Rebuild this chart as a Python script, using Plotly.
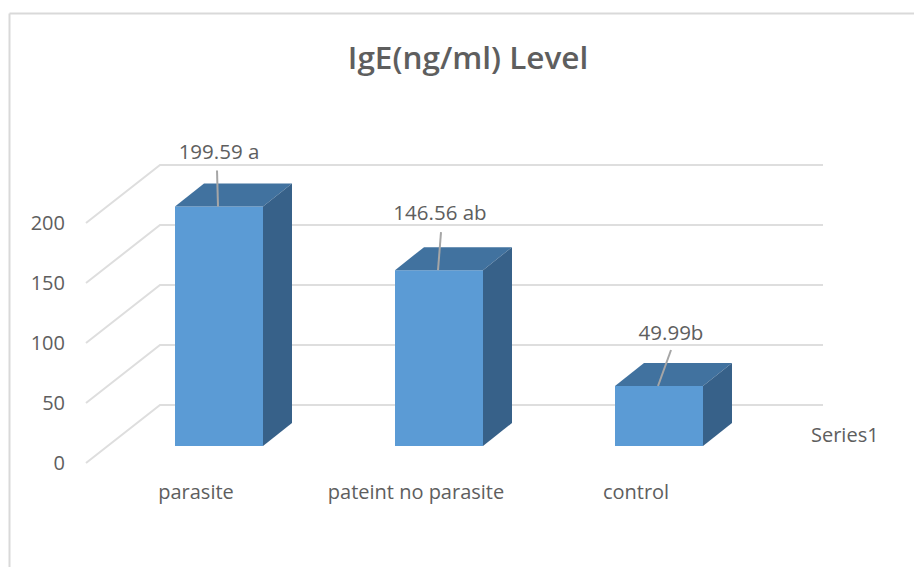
import plotly.graph_objects as go

# ---- data ----
categories = ["parasite", "pateint no parasite", "control"]
values = [199.59, 146.56, 49.99]
value_labels = ["199.59 a", "146.56 ab", "49.99b"]
y_ticks = [0, 50, 100, 150, 200]
title_text = "IgE(ng/ml) Level"
series_name = "Series1"

# ---- geometry (pixels of the page -> axis units) ----
W, H = 914, 567
CAT_PX, VAL_PX = 220.0, 1.2          # pixels per category / per value unit
BAR_W = 0.4
DEPTH_DX, DEPTH_DY = 29 / CAT_PX, 23 / VAL_PX      # bar depth
WALL_DX, WALL_DY = 74 / CAT_PX, 58 / VAL_PX        # floor depth
GRID_LEFT, GRID_RIGHT = -0.5, 2.85
# leader end offset from the bar's top-front centre, and label offset from that end (px)
LEADERS = [(-1, 36), (3, 38), (13, 36)]
LABEL_SHIFT = [(1, 17), (-2, 17), (-1, 15)]

TEXT = "#5E5E5E"
FONT = "Open Sans"
FRONT, TOP, SIDE = "#5B9BD5", "#41729F", "#376189"
GRID = "#DEDEDE"


def rng(origin_px, scale, size, flip=False):
    """Axis range so that value 0 falls on origin_px."""
    if flip:
        return [(origin_px - size) / scale, origin_px / scale]
    return [-origin_px / scale, (size - origin_px) / scale]


fig = go.Figure()

# back wall and floor grid lines (label axes)
for t in y_ticks:
    fig.add_trace(go.Scatter(
        x=[GRID_LEFT, GRID_LEFT + WALL_DX, GRID_RIGHT],
        y=[t, t + WALL_DY, t + WALL_DY],
        mode="lines", line=dict(color=GRID, width=2),
        showlegend=False, hoverinfo="skip", xaxis="x", yaxis="y"))

# front faces
fig.add_trace(go.Bar(
    x=list(range(len(values))), y=values, width=BAR_W, name=series_name,
    marker=dict(color=FRONT, line=dict(width=0)),
    showlegend=False, xaxis="x2", yaxis="y2"))

# tops and right-hand sides
h = BAR_W / 2
for i, v in enumerate(values):
    fig.add_trace(go.Scatter(
        x=[i - h, i - h + DEPTH_DX, i + h + DEPTH_DX, i + h, i - h],
        y=[v, v + DEPTH_DY, v + DEPTH_DY, v, v],
        mode="lines", fill="toself", fillcolor=TOP, line=dict(width=0, color=TOP),
        showlegend=False, hoverinfo="skip", xaxis="x2", yaxis="y2"))
    fig.add_trace(go.Scatter(
        x=[i + h, i + h + DEPTH_DX, i + h + DEPTH_DX, i + h, i + h],
        y=[0, DEPTH_DY, v + DEPTH_DY, v, 0],
        mode="lines", fill="toself", fillcolor=SIDE, line=dict(width=0, color=SIDE),
        showlegend=False, hoverinfo="skip", xaxis="x2", yaxis="y2"))

# leader lines
for i, v in enumerate(values):
    dx, dy = LEADERS[i]
    fig.add_trace(go.Scatter(
        x=[i - 0.0045, i - 0.0045 + dx / CAT_PX], y=[v, v + dy / VAL_PX],
        mode="lines", line=dict(color="#A6A6A6", width=2),
        showlegend=False, hoverinfo="skip", xaxis="x2", yaxis="y2"))

# data labels
fig.add_trace(go.Scatter(
    x=[i + (LEADERS[i][0] + LABEL_SHIFT[i][0]) / CAT_PX for i in range(len(values))],
    y=[v + (LEADERS[i][1] + LABEL_SHIFT[i][1]) / VAL_PX for i, v in enumerate(values)],
    text=value_labels, mode="text", textposition="middle center",
    textfont=dict(family=FONT, size=20.5, color=TEXT),
    showlegend=False, hoverinfo="skip", xaxis="x2", yaxis="y2"))

fig.update_layout(
    width=W, height=H, autosize=False,
    margin=dict(l=0, r=0, t=0, b=0),
    paper_bgcolor="white", plot_bgcolor="white",
    title=dict(text=title_text, x=468 / W, xanchor="center", y=1 - 58 / H, yanchor="middle",
               font=dict(family=FONT, size=31.5, color=TEXT, weight=600)),
    xaxis=dict(range=rng(196, CAT_PX, W), domain=[0, 1], anchor="free", position=1 - 478 / H,
               tickmode="array", tickvals=list(range(len(categories))), ticktext=categories,
               tickfont=dict(family=FONT, size=20, color=TEXT),
               showgrid=False, zeroline=False, showline=False, ticks=""),
    yaxis=dict(range=rng(463, VAL_PX, H, flip=True), domain=[0, 1], anchor="free", position=65 / W,
               tickmode="array", tickvals=y_ticks,
               tickfont=dict(family=FONT, size=20, color=TEXT),
               showgrid=False, zeroline=False, showline=False, ticks=""),
    xaxis2=dict(range=rng(219, CAT_PX, W), overlaying="x", visible=False, anchor="y2"),
    yaxis2=dict(range=rng(446, VAL_PX, H, flip=True), overlaying="y", visible=False, anchor="x2"),
    shapes=[
        dict(type="line", xref="paper", yref="paper", x0=9.5 / W, x1=1, y0=1 - 13.5 / H, y1=1 - 13.5 / H,
             line=dict(color="#D9D9D9", width=2)),
        dict(type="line", xref="paper", yref="paper", x0=9.5 / W, x1=9.5 / W, y0=0, y1=1 - 13.5 / H,
             line=dict(color="#D9D9D9", width=2)),
    ],
    annotations=[dict(text=series_name, xref="paper", yref="paper", x=844.5 / W, y=1 - 434 / H,
                      xanchor="center", yanchor="middle", showarrow=False,
                      font=dict(family=FONT, size=20, color=TEXT))],
)

fig.write_html("out.html", config={"displayModeBar": False},
               post_script="document.body.style.margin='0';document.body.style.overflow='hidden';")
